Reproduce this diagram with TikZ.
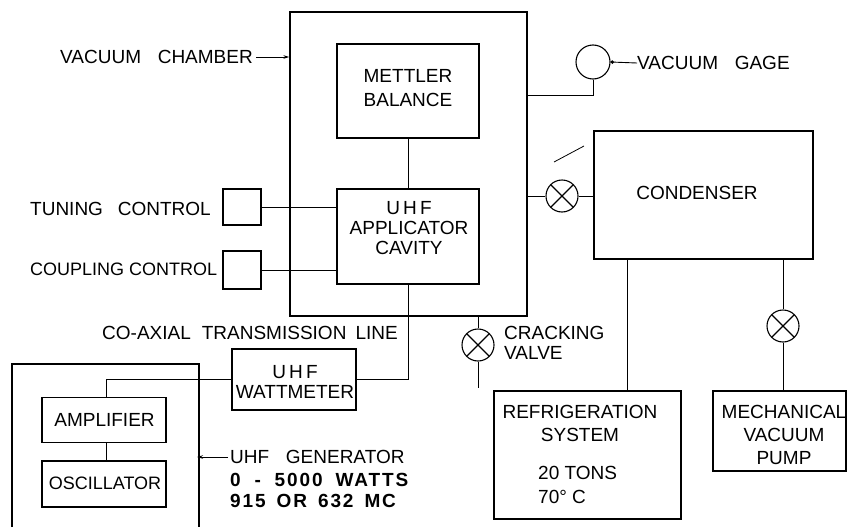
\documentclass[tikz,border=0pt]{standalone}
\usepackage{fontspec}
\setmainfont{Liberation Sans}
\usetikzlibrary{arrows.meta}
\newfontfamily\boldlet[LetterSpace=10]{Liberation Sans Bold}
\begin{document}
\begin{tikzpicture}[x=1pt,y=-1pt,
  bx/.style={draw, line width=1.3pt, inner sep=0},
  wire/.style={line width=0.9pt},
  txt/.style={inner sep=0, align=center, font=\fontsize{19}{24}\selectfont},
  ltxt/.style={inner sep=0, align=left, anchor=west, font=\fontsize{19}{20}\selectfont},
  valve/.style={circle, draw, line width=1.1pt, minimum size=32pt, inner sep=0,
    path picture={\draw[line width=1.1pt] (path picture bounding box.south west) -- (path picture bounding box.north east)
      (path picture bounding box.north west) -- (path picture bounding box.south east);}},
  tip/.style={-{Stealth[length=6pt,width=3.5pt]}}
]
\useasboundingbox (0,0) rectangle (848,527);

% vacuum chamber
\node[bx, minimum width=237pt, minimum height=304pt] (chamber) at (408.5,164) {};
\node[ltxt] (vclbl) at (60,57) {VACUUM\hspace{0.6em} CHAMBER};
\draw[wire,tip] (vclbl.east) ++(3,0) coordinate (vcs) -- (vcs -| chamber.west);

% mettler balance
\node[bx, minimum width=142pt, minimum height=94pt] (mettler) at (408,91) {};
\node[txt] (mettlertxt) at (408,88) {METTLER\\BALANCE};

% UHF applicator cavity
\node[bx, minimum width=142pt, minimum height=95pt] (cav) at (408,236.5) {};
\node[txt, font=\fontsize{19}{20}\selectfont] (cavtxt) at (409,228) {U\,H\,F\\APPLICATOR\\CAVITY};
\draw[wire] (mettler.south) -- (cav.north);

% tuning / coupling controls
\node[bx, minimum width=38pt, minimum height=36pt] (tune) at (242,207) {};
\node[bx, minimum width=38pt, minimum height=38pt] (coup) at (242,270) {};
\node[ltxt] (tunelbl) at (30,209) {TUNING\hspace{0.5em} CONTROL};
\node[ltxt, font=\fontsize{18}{20}\selectfont] (couplbl) at (30,269) {COUPLING CONTROL};
\draw[wire] (tune.east) -- (tune.east -| cav.west);
\draw[wire] (coup.east) -- (coup.east -| cav.west);

% co-axial line and wattmeter
\node[ltxt] (coaxlbl) at (102,333) {CO-AXIAL\hspace{0.3em} TRANSMISSION\hspace{0.2em} LINE};
\node[bx, minimum width=124pt, minimum height=61pt] (watt) at (294,379.5) {};
\node[txt, font=\fontsize{19}{20}\selectfont] (watttxt) at (295,382) {U\,H\,F\\WATTMETER};
\draw[wire] (cav.south) |- (watt.east);

% UHF generator
\coordinate (gbl) at (12,527);
\coordinate (gtl) at (12,364);
\coordinate (gtr) at (199,364);
\coordinate (gbr) at (199,527);
\draw[line width=1.3pt] (gbl) -- (gtl) -- (gtr) -- (gbr);
\node[bx, minimum width=124pt, minimum height=45pt] (amp) at (104,420) {};
\node[txt] (amptxt) at (104.5,420) {AMPLIFIER};
\node[bx, minimum width=124pt, minimum height=46pt] (osc) at (104,484) {};
\node[txt, font=\fontsize{18}{20}\selectfont] (osctxt) at (105,483) {OSCILLATOR};
\coordinate (fx) at (106,0);
\draw[wire] (watt.west) -| (fx |- amp.north);
\draw[wire] (fx |- amp.south) -- (fx |- osc.north);
\node[ltxt] (genlbl) at (230,457) {UHF\hspace{0.6em} GENERATOR};
\node[ltxt, font=\fontsize{19}{21}\boldlet] (gentxt) at (230,490) {0\hspace{0.35em} -\hspace{0.35em} 5000\hspace{0.3em} WATTS\\915\hspace{0.2em} OR\hspace{0.2em} 632\hspace{0.2em} MC};
\draw[wire,tip] ([xshift=-2pt]genlbl.west) -- ([xshift=-2pt]genlbl.west -| gtr);

% vacuum gage
\node[circle, draw, line width=1.1pt, minimum size=34pt, inner sep=0] (gage) at (593,62) {};
\node[ltxt] (gagelbl) at (637,63) {VACUUM\hspace{0.6em} GAGE};
\draw[wire, {Circle[length=3.5pt]}-] (gage.east) -- (gagelbl.west);
\coordinate (gk) at (527,95);
\draw[wire] (gage.south) |- (gk);

% condenser
\node[bx, line width=1.5pt, minimum width=219pt, minimum height=128pt] (cond) at (703.5,195) {};
\node[txt] (condtxt) at (697,193) {CONDENSER};
\coordinate (s1) at (554,162);
\coordinate (s2) at (584,146);
\draw[line width=0.8pt] (s1) -- (s2);
\node[valve] (v1) at (562,196) {};
\draw[wire] (v1.west -| chamber.east) -- (v1.west);
\draw[wire] (v1.east) -- (v1.east -| cond.west);

% cracking valve
\node[valve] (v3) at (478,345) {};
\draw[wire] (v3.north |- chamber.south) -- (v3.north);
\coordinate (v3end) at (478,388);
\draw[wire] (v3.south) -- (v3end);
\node[ltxt] (cracklbl) at (504,343) {CRACKING\\VALVE};

% refrigeration system
\node[bx, minimum width=187pt, minimum height=128pt] (refr) at (587.5,455) {};
\node[txt, font=\fontsize{19}{23}\selectfont] (refrtxt) at (580,423.5) {REFRIGERATION\\SYSTEM};
\node[ltxt, font=\fontsize{19}{24}\selectfont] (tonstxt) at (538,485) {20 TONS\\70° C};
\coordinate (rx) at (627,0);
\draw[wire] (rx |- cond.south) -- (rx |- refr.north);

% mechanical vacuum pump
\node[bx, minimum width=133pt, minimum height=80pt] (pump) at (779.5,431) {};
\node[txt, font=\fontsize{19}{23}\selectfont] (pumptxt) at (784,435) {MECHANICAL\\VACUUM\\PUMP};
\node[valve] (v2) at (783,326) {};
\draw[wire] (v2.north |- cond.south) -- (v2.north);
\draw[wire] (v2.south) -- (v2.south |- pump.north);
\end{tikzpicture}
\end{document}
